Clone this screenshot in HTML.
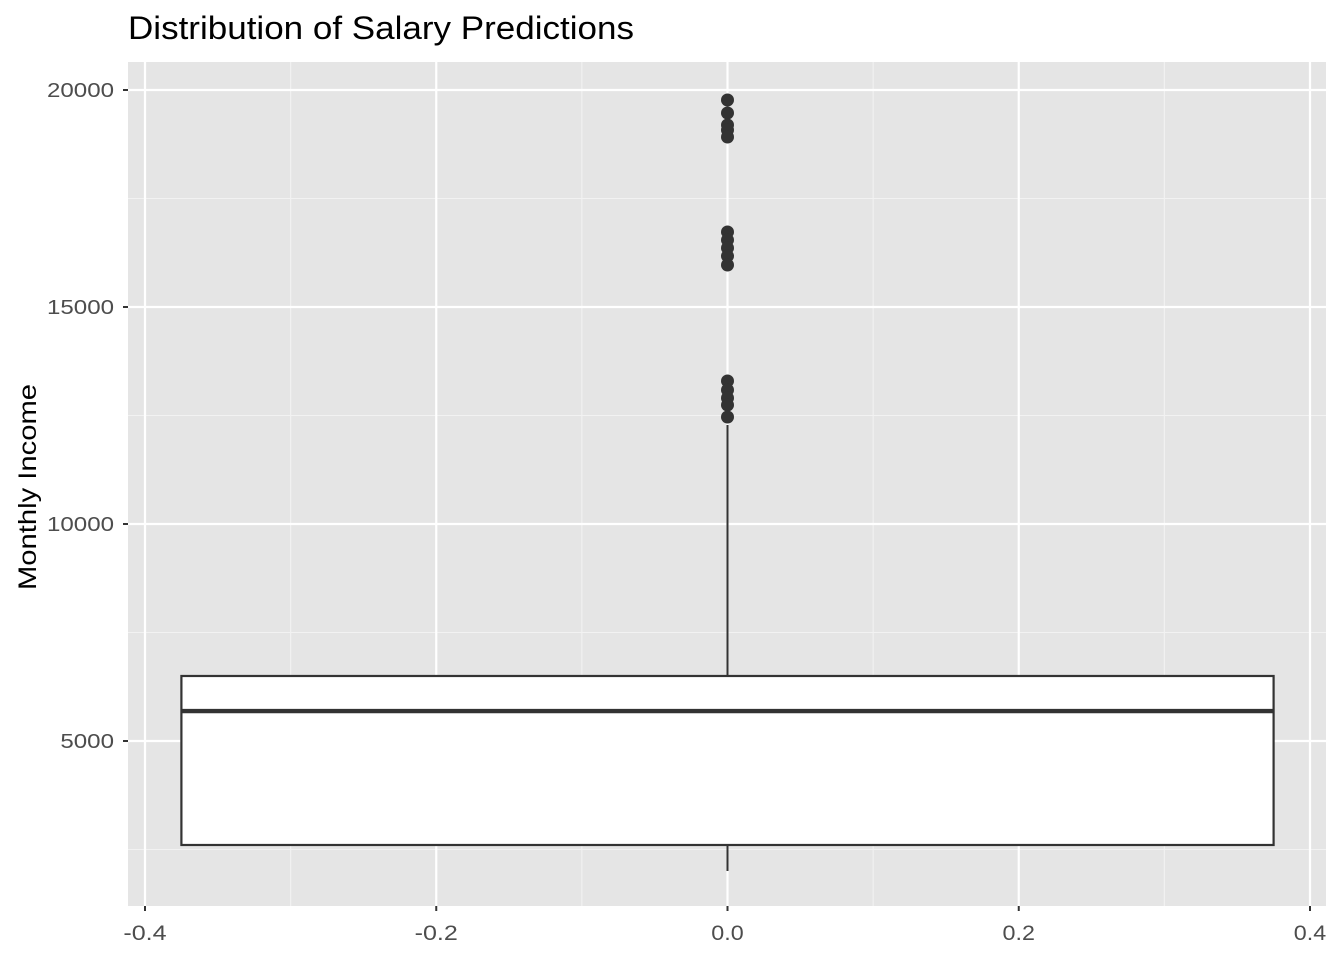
<!DOCTYPE html>
<html><head><meta charset="utf-8"><style>
body{margin:0;background:#fff;font-family:"Liberation Sans",sans-serif}
</style></head><body>
<svg width="1344" height="960" xmlns="http://www.w3.org/2000/svg">
<g id="root"></g>
</svg>
<script>
const xTicks=[-0.4,-0.2,0.0,0.2,0.4];
const xTickLabels=["-0.4","-0.2","0.0","0.2","0.4"];
const yTicks=[5000,10000,15000,20000];
const yTickLabels=["5000","10000","15000","20000"];
const boxStats=[2604,5690,6498];
const whiskers=[2005,12281];
const outliers=[19770,19470,19194,19078,18917,16728,16544,16360,16175,15968,13295,13088,12903,12742,12465];
const boxHalfWidth=0.375;
const X0=128,X1=1326,Y0=62,Y1=906;
const sx=v=>727.5+v*1456.25;
const sy=v=>90+(20000-v)*217/5000;
const ns="http://www.w3.org/2000/svg",root=document.getElementById('root');
function mk(t,a,p){const e=document.createElementNS(ns,t);for(const k in a)e.setAttribute(k,a[k]);(p||root).appendChild(e);return e;}
let e=mk('rect',{x:X0,y:Y0,width:X1-X0,height:Y1-Y0,fill:'#e5e5e5'});

for(let i=0;i<xTicks.length-1;i++){const m=(xTicks[i]+xTicks[i+1])/2;mk('line',{x1:sx(m),x2:sx(m),y1:Y0,y2:Y1,stroke:'#f2f2f2','stroke-width':1.1});}
const ym=[2500,7500,12500,17500];
ym.forEach(v=>mk('line',{x1:X0,x2:X1,y1:sy(v),y2:sy(v),stroke:'#f2f2f2','stroke-width':1.1}));
xTicks.forEach((v,i)=>{
 e=mk('line',{x1:sx(v),x2:sx(v),y1:Y0,y2:Y1,stroke:'#fff','stroke-width':2.2});
 
 mk('line',{x1:sx(v),x2:sx(v),y1:Y1,y2:Y1+5,stroke:'#333','stroke-width':2});
 const lab=xTickLabels[i];
 e=mk('text',{x:sx(v),y:Y1+34,'text-anchor':'middle','font-size':21,fill:'#4d4d4d',textLength:lab.length*10.8,lengthAdjust:'spacingAndGlyphs'});e.textContent=lab;
 
});
yTicks.forEach((v,i)=>{
 e=mk('line',{x1:X0,x2:X1,y1:sy(v),y2:sy(v),stroke:'#fff','stroke-width':2.2});
 
 mk('line',{x1:X0-5,x2:X0,y1:sy(v),y2:sy(v),stroke:'#333','stroke-width':2});
 const lab=yTickLabels[i];
 e=mk('text',{x:X0-14,y:sy(v)+7,'text-anchor':'end','font-size':20,fill:'#4d4d4d',textLength:lab.length*13.4,lengthAdjust:'spacingAndGlyphs'});e.textContent=lab;
 
});
const cx=sx(0);
e=mk('line',{x1:cx,x2:cx,y1:sy(boxStats[2]),y2:sy(whiskers[1]),stroke:'#333','stroke-width':2});

e=mk('line',{x1:cx,x2:cx,y1:sy(boxStats[0]),y2:sy(whiskers[0]),stroke:'#333','stroke-width':2});

e=mk('rect',{x:sx(-boxHalfWidth),y:sy(boxStats[2]),width:sx(boxHalfWidth)-sx(-boxHalfWidth),height:sy(boxStats[0])-sy(boxStats[2]),fill:'#fff',stroke:'#333','stroke-width':2.2});

e=mk('line',{x1:sx(-boxHalfWidth),x2:sx(boxHalfWidth),y1:sy(boxStats[1]),y2:sy(boxStats[1]),stroke:'#333','stroke-width':4.4});

outliers.forEach(v=>{e=mk('circle',{cx:cx,cy:sy(v),r:6.5,fill:'#333'});
 });
e=mk('text',{x:128,y:39,'font-size':32,fill:'#000',textLength:506,lengthAdjust:'spacingAndGlyphs'});e.textContent='Distribution of Salary Predictions';

e=mk('text',{x:0,y:0,'font-size':25,fill:'#000','text-anchor':'middle',textLength:206,lengthAdjust:'spacingAndGlyphs',transform:'translate(36,487) rotate(-90)'});e.textContent='Monthly Income';

</script>
</body></html>
